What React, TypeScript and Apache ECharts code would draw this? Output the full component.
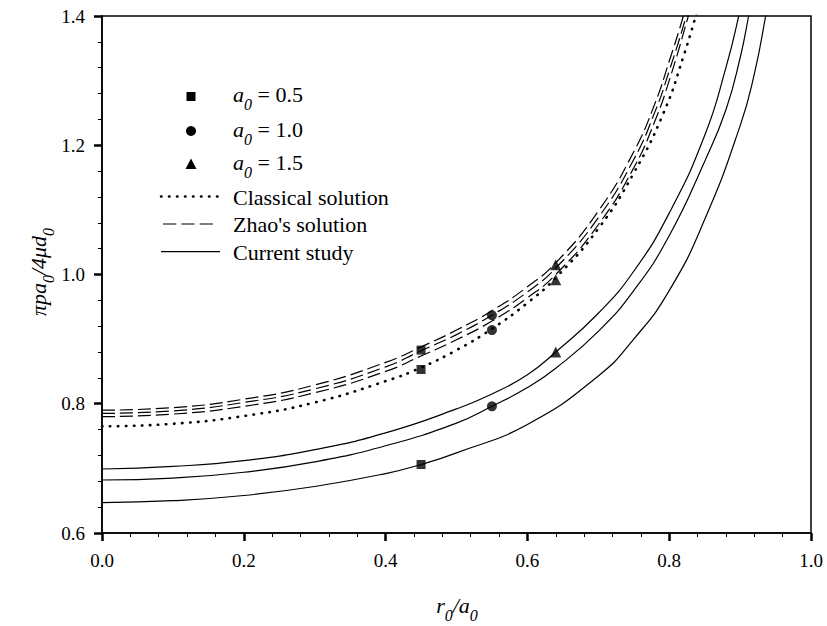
import React, { useEffect, useRef } from 'react';
import * as echarts from 'echarts';

const FONT = '"Liberation Serif", "Times New Roman", serif';

// Curves: [r0/a0, value]
const classical: [number, number][] = [
  [0, 0.765], [0.1, 0.769], [0.2, 0.781], [0.3, 0.802], [0.4, 0.835], [0.45, 0.856],
  [0.5, 0.883], [0.55, 0.916], [0.6, 0.956], [0.64, 0.995], [0.7, 1.071], [0.75, 1.157],
  [0.792, 1.25], [0.82, 1.337], [0.84, 1.41],
];
const zhaoTop: [number, number][] = [
  [0, 0.790], [0.1, 0.794], [0.2, 0.807], [0.3, 0.829], [0.4, 0.864], [0.45, 0.888],
  [0.5, 0.914], [0.55, 0.944], [0.6, 0.981], [0.64, 1.018], [0.7, 1.098], [0.75, 1.19],
  [0.78, 1.265], [0.8, 1.33], [0.82, 1.40], [0.835, 1.46],
];
const zhaoMid: [number, number][] = [
  [0, 0.785], [0.1, 0.789], [0.2, 0.802], [0.3, 0.823], [0.4, 0.857], [0.45, 0.882],
  [0.5, 0.907], [0.55, 0.937], [0.6, 0.973], [0.64, 1.010], [0.7, 1.088], [0.75, 1.178],
  [0.78, 1.252], [0.8, 1.315], [0.824, 1.40], [0.838, 1.46],
];
const zhaoBot: [number, number][] = [
  [0, 0.780], [0.1, 0.784], [0.2, 0.796], [0.3, 0.817], [0.4, 0.850], [0.45, 0.874],
  [0.5, 0.899], [0.55, 0.928], [0.6, 0.964], [0.64, 1.000], [0.7, 1.077], [0.75, 1.165],
  [0.78, 1.238], [0.8, 1.30], [0.827, 1.40], [0.842, 1.46],
];
const currentTop: [number, number][] = [
  [0, 0.699], [0.1, 0.703], [0.2, 0.712], [0.3, 0.729], [0.4, 0.755], [0.5, 0.792],
  [0.55, 0.815], [0.6, 0.845], [0.64, 0.880], [0.7, 0.940], [0.75, 1.005], [0.8, 1.095],
  [0.85, 1.215], [0.88, 1.32], [0.898, 1.40], [0.91, 1.47],
];
const currentMid: [number, number][] = [
  [0, 0.682], [0.1, 0.685], [0.2, 0.694], [0.3, 0.710], [0.4, 0.735], [0.5, 0.770],
  [0.55, 0.796], [0.6, 0.825], [0.64, 0.855], [0.7, 0.912], [0.75, 0.975], [0.8, 1.06],
  [0.85, 1.175], [0.88, 1.255], [0.9, 1.335], [0.912, 1.40], [0.922, 1.46],
];
const currentBot: [number, number][] = [
  [0, 0.647], [0.1, 0.650], [0.2, 0.658], [0.3, 0.672], [0.4, 0.692], [0.45, 0.706],
  [0.5, 0.724], [0.6, 0.768], [0.7, 0.843], [0.75, 0.900], [0.8, 0.975], [0.85, 1.085],
  [0.9, 1.23], [0.92, 1.31], [0.936, 1.40], [0.945, 1.46],
];

// Markers
const a05: [number, number][] = [[0.45, 0.883], [0.45, 0.853], [0.45, 0.706]];
const a10: [number, number][] = [[0.55, 0.937], [0.55, 0.914], [0.55, 0.796]];
const a15: [number, number][] = [[0.64, 1.015], [0.64, 0.992], [0.64, 0.880]];

const legendMarkers = ['0.5', '1.0', '1.5'];
const legendLines = ['Classical solution', "Zhao's solution", 'Current study'];

const rich = {
  i: { fontFamily: FONT, fontStyle: 'italic', fontSize: 22, lineHeight: 26, verticalAlign: 'top', fill: '#000' },
  n: { fontFamily: FONT, fontSize: 22, lineHeight: 26, verticalAlign: 'top', fill: '#000' },
  s: { fontFamily: FONT, fontStyle: 'italic', fontSize: 16, lineHeight: 16, verticalAlign: 'top', padding: [13, 0, 0, 0], fill: '#000' },
};

export default function App() {
  const ref = useRef<HTMLDivElement>(null);
  useEffect(() => {
    if (!ref.current) return;
    const chart = echarts.init(ref.current, null, { renderer: 'svg' });
    const dotted = { color: '#000', width: 2.6, type: [0.5, 7.5], cap: 'round' };
    const dashed = { color: '#000', width: 1.2, type: [13, 5] };
    const solid = { color: '#000', width: 1.2, type: 'solid' };
    const lineSeries = (data: [number, number][], ls: any) => ({
      type: 'line', data, showSymbol: false, symbol: 'none', smooth: 0.5,
      lineStyle: ls, silent: true, clip: true, z: 2,
    });
    const markerSeries = (data: [number, number][], symbol: string, size: number) => ({
      type: 'scatter', data, symbol, symbolSize: size, itemStyle: { color: '#000' }, silent: true, z: 5,
    });
    const legendMarkerY = [96.5, 131, 164.5];
    const legendLineY = [196.5, 224, 251.7];
    const legendTextY = [197.3, 224, 252.3];
    const lineStyles = [
      { stroke: '#000', lineWidth: 2.6, lineDash: [0.5, 7.5], lineCap: 'round' },
      { stroke: '#000', lineWidth: 1.2, lineDash: [13.3, 5] },
      { stroke: '#000', lineWidth: 1.2 },
    ];
    const graphic: any[] = [
      { type: 'rect', shape: { x: 186.5, y: 92, width: 9, height: 9 }, style: { fill: '#000' } },
      { type: 'circle', shape: { cx: 191, cy: 131, r: 5 }, style: { fill: '#000' } },
      { type: 'polygon', shape: { points: [[191, 158.5], [196.5, 169], [185.5, 169]] }, style: { fill: '#000' } },
      ...legendMarkers.map((v, k) => ({
        type: 'text', x: 233, y: legendMarkerY[k],
        style: { text: `{i|a}{s|0}{n| = ${v}}`, rich, align: 'left', verticalAlign: 'middle' },
      })),
      ...legendLines.map((t, k) => ({
        type: 'line', shape: { x1: k === 1 ? 163 : 161, y1: legendLineY[k], x2: k === 1 ? 214 : 220, y2: legendLineY[k] },
        style: lineStyles[k],
      })),
      ...legendLines.map((t, k) => ({
        type: 'text', x: 233, y: legendTextY[k],
        style: { text: t, fontFamily: FONT, fontSize: 22, fill: '#000', align: 'left', verticalAlign: 'middle' },
      })),
      {
        type: 'text', x: 457, y: 607,
        style: { text: '{i|r}{s|0}{i|/a}{s|0}', rich, align: 'center', verticalAlign: 'middle' },
      },
      {
        type: 'text', x: 40, y: 272, rotation: Math.PI / 2,
        style: { text: '{i|πpa}{s|0}{i|/4μd}{s|0}', rich, align: 'center', verticalAlign: 'middle' },
      },
    ];
    const axisCommon = {
      type: 'value',
      axisLine: { show: true, lineStyle: { color: '#000', width: 1.5 } },
      axisTick: { show: true, length: 8, lineStyle: { color: '#000', width: 2.5 } },
      minorTick: { show: true, splitNumber: 5, length: 4, lineStyle: { color: '#000', width: 1 } },
      splitLine: { show: false },
      minorSplitLine: { show: false },
      axisLabel: { color: '#000', fontSize: 19, fontFamily: FONT, formatter: (v: number) => v.toFixed(1) },
    };
    chart.setOption({
      animation: false,
      backgroundColor: '#fff',
      grid: {
        left: 102, right: 16, top: 16, bottom: 93, show: true, borderColor: '#000', borderWidth: 1.5,
        containLabel: false, outerBoundsMode: 'none',
      },
      xAxis: { ...axisCommon, min: 0, max: 1, interval: 0.2, axisLabel: { ...axisCommon.axisLabel, margin: 18 } },
      yAxis: { ...axisCommon, min: 0.6, max: 1.4, interval: 0.2, axisLabel: { ...axisCommon.axisLabel, margin: 17 } },
      series: [
        lineSeries(classical, dotted),
        lineSeries(zhaoTop, dashed),
        lineSeries(zhaoMid, dashed),
        lineSeries(zhaoBot, dashed),
        lineSeries(currentTop, solid),
        lineSeries(currentMid, solid),
        lineSeries(currentBot, solid),
        markerSeries(a05, 'rect', 9),
        markerSeries(a10, 'circle', 10),
        markerSeries(a15, 'triangle', 11),
      ],
      graphic,
    });
    return () => chart.dispose();
  }, []);
  return <div ref={ref} style={{ position: 'fixed', left: 0, top: 0, width: 827, height: 626 }} />;
}
